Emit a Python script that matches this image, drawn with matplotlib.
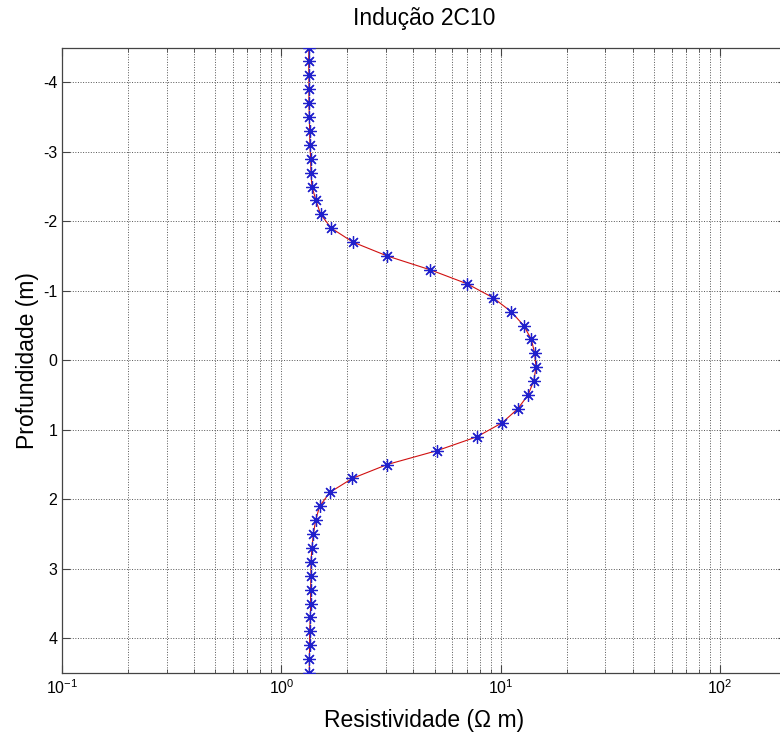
import matplotlib
matplotlib.use('Agg')
import matplotlib.pyplot as plt
from matplotlib.ticker import LogLocator, FixedLocator, NullFormatter

plt.rcParams['font.family'] = ['Liberation Sans', 'DejaVu Sans']
plt.rcParams['mathtext.fontset'] = 'custom'
plt.rcParams['mathtext.rm'] = 'Liberation Sans'
plt.rcParams['mathtext.it'] = 'Liberation Sans:italic'
plt.rcParams['axes.unicode_minus'] = False

# profundidade (m) e resistividade lida (ohm m)
profundidade = [-4.5, -4.3, -4.1, -3.9, -3.7, -3.5, -3.3, -3.1, -2.9, -2.7,
                -2.5, -2.3, -2.1, -1.9, -1.7, -1.5, -1.3, -1.1, -0.9, -0.7,
                -0.5, -0.3, -0.1, 0.1, 0.3, 0.5, 0.7, 0.9, 1.1, 1.3,
                1.5, 1.7, 1.9, 2.1, 2.3, 2.5, 2.7, 2.9, 3.1, 3.3,
                3.5, 3.7, 3.9, 4.1, 4.3, 4.5]
resistividade = [1.335, 1.331, 1.335, 1.335, 1.335, 1.341, 1.345, 1.349, 1.359, 1.364,
                 1.378, 1.437, 1.510, 1.689, 2.118, 3.038, 4.782, 7.025, 9.22, 11.14,
                 12.72, 13.78, 14.27, 14.48, 14.12, 13.31, 11.94, 10.14, 7.80, 5.131,
                 3.038, 2.105, 1.664, 1.494, 1.433, 1.399, 1.378, 1.364, 1.364, 1.359,
                 1.359, 1.355, 1.345, 1.345, 1.341, 1.341]
yticks = [-4, -3, -2, -1, 0, 1, 2, 3, 4]

fig = plt.figure(figsize=(7.8, 7.4), dpi=100)
# eixo vai além da borda direita (figura original cortada)
ax = fig.add_axes([62 / 780, 67 / 740, 724 / 780, 625.5 / 740])

ax.plot(resistividade, profundidade, color='#d01010', linewidth=0.8, zorder=2)
ax.plot(resistividade, profundidade, linestyle='none', marker=(8, 2, 0),
        markersize=9, markeredgewidth=0.9, color='#2020cc', zorder=3)

ax.set_xscale('log')
ax.set_xlim(0.1, 10 ** 2.3)
ax.set_ylim(4.5, -4.5)
ax.yaxis.set_major_locator(FixedLocator(yticks))
ax.xaxis.set_major_locator(LogLocator(base=10, numticks=10))
ax.xaxis.set_minor_locator(LogLocator(base=10, subs=range(2, 10), numticks=20))
ax.xaxis.set_minor_formatter(NullFormatter())

ax.grid(True, which='major', linestyle=':', linewidth=0.7, color='#555555')
ax.grid(True, which='minor', axis='x', linestyle=':', linewidth=0.7, color='#555555')
ax.tick_params(which='both', direction='in', top=True, right=True,
               color='#444444', labelsize=11.5)
ax.tick_params(which='major', length=6)
ax.tick_params(which='minor', length=3)
for s in ax.spines.values():
    s.set_color('#444444')
    s.set_linewidth(0.9)
ax.spines['right'].set_visible(False)

ax.set_title('Indução 2C10', fontsize=16.5, pad=16)
ax.set_xlabel('Resistividade (Ω m)', fontsize=16.5, labelpad=9)
ax.set_ylabel('Profundidade (m)', fontsize=16.5, labelpad=3)

fig.savefig('out.png', dpi=100)
